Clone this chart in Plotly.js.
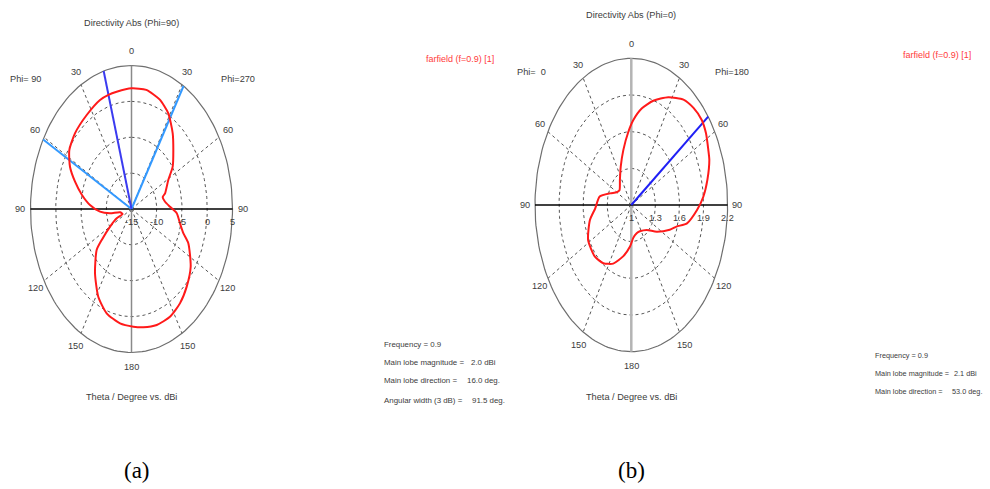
<!DOCTYPE html>
<html><head><meta charset="utf-8">
<script src="https://cdn.plot.ly/plotly-3.0.1.min.js"></script>
<style>html,body{margin:0;padding:0;background:#fff}</style>
</head><body><div id="chart" style="width:990px;height:489px"></div>
<script>
// ---------- DATA ----------
// (a) Directivity Abs (Phi=90) cut, dBi. Angle clockwise from top; negative = "Phi= 90" side (left), positive = "Phi=270" side (right)
const angA = [0, 10, 20, 28.6, 37.7, 45.2, 54.1, 61, 71.8, 75, 81.3, 87.6, 93.8, 101.7, 108.2, 113, 124.5, 134.7, 143.9, 153.1, 162.8, 171.9, 178.7,
  -171.9, -161.3, -151.7, -141.1, -129.6, -126.2, -120, -113.8, -112, -101.4, -98, -93.4, -86.1, -78.7, -71.2, -64.2, -56.3, -46.6, -34.1, -22.3, -16, -10.2, 0];
const dbA = [1.82, 1.86, 1.25, 0.2, -1.66, -3.33, -4.93, -6.67, -8.0, -8.6, -8.28, -7.37, -6.02, -5.2, -4.2, -2.78, -0.78, 0.38, 1.28, 1.84, 1.92, 1.65, 1.4,
  1.1, 0.35, -1.12, -3.49, -6.04, -7.7, -10.1, -11.8, -13.1, -12.7, -10.7, -8.75, -6.76, -5.0, -3.19, -1.47, -0.2, 0.38, 0.82, 1.43, 1.55, 1.6, 1.82];
// (b) Directivity Abs (Phi=0) cut, dBi. Negative = "Phi= 0" side (left), positive = "Phi=180" side (right)
const angB = [2.1, 9.3, 17.8, 27.6, 37, 44.3, 51.6, 57.8, 64.9, 69.2, 77.8, 85.7, 92.9, 102.2, 107.4, 112.9, 124.6, 136.7, 153.7, 163.8, 174.8,
  -177.3, -166.7, -154.8, -143.8, -133, -118.1, -103.4, -93.4, -80.1, -70.1, -60.3, -50.8, -34.6, -22.8, -12.5, -3.5, 2.1];
const valB = [1.696, 1.80, 1.896, 1.995, 2.08, 2.11, 2.12, 2.10, 2.06, 2.04, 1.97, 1.90, 1.82, 1.71, 1.59, 1.52, 1.385, 1.28, 1.24, 1.24, 1.27,
  1.34, 1.43, 1.53, 1.59, 1.62, 1.61, 1.53, 1.45, 1.40, 1.28, 1.21, 1.19, 1.25, 1.34, 1.46, 1.60, 1.696];
const ringTicksA = [-15, -10, -5, 0, 5];
const ringTicksB = [1, 1.3, 1.6, 1.9, 2.2];
const angleTicks = [0, 30, 60, 90, 120, 150, 180];
const mainLobeA = [-16];          // main lobe direction line (a)
const beamEdgesA = [-61, 31];     // 3 dB angular width lines (a)
const mainLobeB = [53];           // main lobe direction line (b)
const infoLabelsA = ["Frequency = 0.9", "Main lobe magnitude =", "Main lobe direction =", "Angular width (3 dB) ="];
const infoValuesA = ["", "2.0 dBi", "16.0 deg.", "91.5 deg."];
const infoLabelsB = ["Frequency = 0.9", "Main lobe magnitude =", "Main lobe direction ="];
const infoValuesB = ["", "2.1 dBi", "53.0 deg."];

// ---------- GEOMETRY / STYLE ----------
const W = 990, H = 489, RX = 1.25, RY = 1.34;
const geomA = {cx: 131.5, cy: 209, rx: 101, ry: 143.5};
const geomB = {cx: 631.3, cy: 205, rx: 96.3, ry: 146.7};
const FONT = "Liberation Sans, Arial, sans-serif";
const TXT = "#3c3c3c";
const LBL = 9.2, INFO = 7.9, INFOB = 7.3;
function dom(g) {
  return {x: [(g.cx - RX * g.rx) / W, (g.cx + RX * g.rx) / W],
          y: [(H - g.cy - RY * g.ry) / H, (H - g.cy + RY * g.ry) / H]};
}
function pt(ang, rn) { const a = ang * Math.PI / 180; return [rn * Math.sin(a), rn * Math.cos(a)]; }
function curve(angs, vals, t0, t1) {
  const xs = [], ys = [];
  angs.forEach((a, i) => { const p = pt(a, (vals[i] - t0) / (t1 - t0)); xs.push(p[0]); ys.push(p[1]); });
  return {x: xs, y: ys};
}
function ellipse(rn) {
  const xs = [], ys = [];
  for (let a = 0; a <= 360; a += 2) { const p = pt(a, rn); xs.push(p[0]); ys.push(p[1]); }
  return {x: xs, y: ys};
}
const traces = [];
const annotations = [];
function buildChart(xa, ya, ticks, vertColor, vertWidth) {
  const t0 = ticks[0], t1 = ticks[ticks.length - 1];
  const ln = (o) => Object.assign({xaxis: xa, yaxis: ya, mode: "lines", hoverinfo: "skip", showlegend: false}, o);
  ticks.slice(1, -1).forEach(t => {
    const e = ellipse((t - t0) / (t1 - t0));
    traces.push(ln({x: e.x, y: e.y, line: {color: "#555", width: 1, dash: "3px,3px"}}));
  });
  [30, 60, 120, 150, -30, -60, -120, -150].forEach(a => {
    const p = pt(a, 1);
    traces.push(ln({x: [0, p[0]], y: [0, p[1]], line: {color: "#555", width: 1, dash: "3px,3px"}}));
  });
  const o = ellipse(1);
  traces.push(ln({x: o.x, y: o.y, line: {color: "#6e6e6e", width: 1.2}}));
  traces.push(ln({x: [0, 0], y: [1, -1], line: {color: vertColor, width: vertWidth}}));
  traces.push(ln({x: [-1, 1], y: [0, 0], line: {color: "#000", width: 1.5}}));
  return {t0, t1};
}
function addText(xref, yref, x, y, text, opts) {
  annotations.push(Object.assign({xref, yref, x, y, text, showarrow: false,
    font: {family: FONT, size: LBL, color: TXT}, xanchor: "center", yanchor: "middle"}, opts || {}));
}
function angleLabels(xa, ya) {
  angleTicks.forEach(a => {
    const sides = (a === 0 || a === 180) ? [a] : [a, -a];
    sides.forEach(s => { const p = pt(s, 1.1); addText(xa, ya, p[0], p[1], String(a)); });
  });
}
function ray(xa, ya, a, color) {
  const p = pt(a, 1);
  traces.push({x: [0, p[0]], y: [0, p[1]], xaxis: xa, yaxis: ya, mode: "lines", hoverinfo: "skip", showlegend: false, line: {color: color, width: 2}});
}

// ---------- CHART (a) ----------
let sc = buildChart("x", "y", ringTicksA, "#8a8a8a", 1.5);
beamEdgesA.forEach(a => ray("x", "y", a, "#3399ff"));
mainLobeA.forEach(a => ray("x", "y", a, "#3b3bf0"));
let cA = curve(angA, dbA, sc.t0, sc.t1);
traces.push({x: cA.x, y: cA.y, xaxis: "x", yaxis: "y", mode: "lines", hoverinfo: "skip", showlegend: false, line: {color: "#ff1a1a", width: 2, shape: "spline", smoothing: 0.6}});
angleLabels("x", "y");
ringTicksA.forEach(t => addText("x", "y", (t - sc.t0) / (sc.t1 - sc.t0), 0, String(t), {yshift: -13}));
addText("x", "y", -1.045, 0.905, "Phi= 90");
addText("x", "y", 1.055, 0.905, "Phi=270");
addText("x", "y", 0, 1.298, "Directivity Abs (Phi=90)");
addText("x", "y", 0, -1.312, "Theta / Degree vs. dBi");

// ---------- CHART (b) ----------
sc = buildChart("x2", "y2", ringTicksB, "#b4b4b4", 2.5);
mainLobeB.forEach(a => ray("x2", "y2", a, "#1f1ff5"));
let cB = curve(angB, valB, sc.t0, sc.t1);
traces.push({x: cB.x, y: cB.y, xaxis: "x2", yaxis: "y2", mode: "lines", hoverinfo: "skip", showlegend: false, line: {color: "#ff1a1a", width: 2, shape: "spline", smoothing: 0.6}});
angleLabels("x2", "y2");
ringTicksB.forEach(t => addText("x2", "y2", (t - sc.t0) / (sc.t1 - sc.t0), 0, String(t), {yshift: -13}));
addText("x2", "y2", -1.034, 0.909, "Phi=\u00a0 0");
addText("x2", "y2", 1.05, 0.909, "Phi=180");
addText("x2", "y2", 0, 1.295, "Directivity Abs (Phi=0)");
addText("x2", "y2", 0, -1.311, "Theta / Degree vs. dBi");

// ---------- legends / info ----------
addText("paper", "paper", 459.5 / W, 1 - 59.3 / H, "farfield (f=0.9) [1]", {font: {family: FONT, size: 9, color: "#ff3b3b"}});
addText("paper", "paper", 936.7 / W, 1 - 55 / H, "farfield (f=0.9) [1]", {font: {family: FONT, size: 9, color: "#ff3b3b"}});
const infoYA = [344, 362.7, 380.7, 400], infoVXA = [0, 469.3, 465, 470];
infoLabelsA.forEach((s, i) => {
  addText("paper", "paper", 381.7 / W, 1 - infoYA[i] / H, s, {xanchor: "left", font: {family: FONT, size: INFO, color: TXT}});
  if (infoValuesA[i]) addText("paper", "paper", infoVXA[i] / W, 1 - infoYA[i] / H, infoValuesA[i], {xanchor: "left", font: {family: FONT, size: INFO, color: TXT}});
});
const infoYB = [355.7, 373.3, 391], infoVXB = [0, 951.5, 950];
infoLabelsB.forEach((s, i) => {
  addText("paper", "paper", 873.3 / W, 1 - infoYB[i] / H, s, {xanchor: "left", font: {family: FONT, size: INFOB, color: TXT}});
  if (infoValuesB[i]) addText("paper", "paper", infoVXB[i] / W, 1 - infoYB[i] / H, infoValuesB[i], {xanchor: "left", font: {family: FONT, size: INFOB, color: TXT}});
});
addText("paper", "paper", 137 / W, 1 - 470 / H, "(a)", {font: {family: "Liberation Serif, Times New Roman, serif", size: 23, color: "#000"}});
addText("paper", "paper", 631 / W, 1 - 470 / H, "(b)", {font: {family: "Liberation Serif, Times New Roman, serif", size: 23, color: "#000"}});

const dA = dom(geomA), dB = dom(geomB);
const ax = (d, r, anchor) => ({domain: d, range: [-r, r], visible: false, fixedrange: true, anchor: anchor, showgrid: false, zeroline: false});
const layout = {
  width: W, height: H, margin: {l: 0, r: 0, t: 0, b: 0},
  paper_bgcolor: "#fff", plot_bgcolor: "rgba(0,0,0,0)", showlegend: false,
  xaxis: ax(dA.x, RX, "y"), yaxis: ax(dA.y, RY, "x"),
  xaxis2: ax(dB.x, RX, "y2"), yaxis2: ax(dB.y, RY, "x2"),
  annotations: annotations
};
Plotly.newPlot("chart", traces, layout, {displayModeBar: false, staticPlot: true});
</script></body></html>
